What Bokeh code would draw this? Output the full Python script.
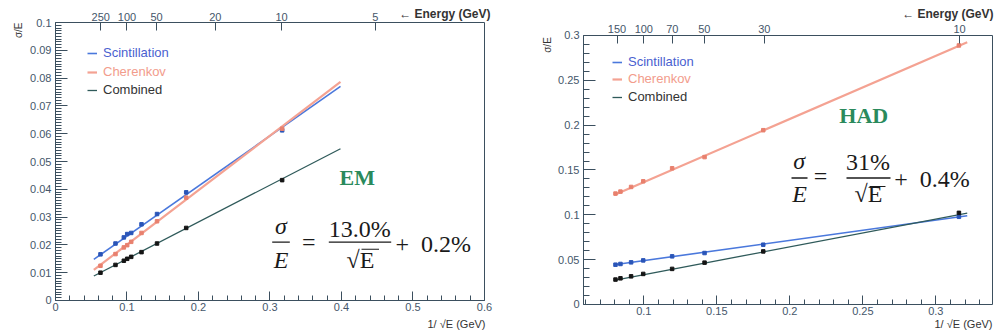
import math
from bokeh.plotting import figure
from bokeh.layouts import row
from bokeh.models import (Range1d, LinearAxis, FixedTicker, SingleIntervalTicker,
                          NumeralTickFormatter, Legend, LegendItem, Label, BoxAnnotation)
from bokeh.embed import file_html
from bokeh.resources import INLINE

# ---------------- data ----------------
# EM panel: x = 1/sqrt(E)
em_x = [0.0629, 0.0839, 0.0956, 0.1003, 0.1059, 0.1203, 0.1420, 0.1828, 0.3170]
em_scint = [0.0166, 0.0205, 0.0227, 0.0239, 0.0243, 0.0274, 0.0311, 0.0389, 0.0612]
em_cher = [0.0125, 0.0167, 0.0191, 0.0199, 0.0211, 0.0243, 0.0285, 0.0370, 0.0618]
em_comb = [0.0100, 0.0128, 0.0143, 0.0150, 0.0157, 0.0174, 0.0205, 0.0261, 0.0433]
em_fit_x = [0.0536, 0.3986]
em_fit_scint = [0.0148, 0.0770]
em_fit_cher = [0.0110, 0.0786]
em_fit_comb = [0.0088, 0.0546]
em_energy_ticks = [250, 100, 50, 20, 10, 5]
em_xlim = (0.0, 0.6)
em_ylim = (0.0, 0.1)

# HAD panel
had_x = [0.0806, 0.0840, 0.0913, 0.0996, 0.1194, 0.1416, 0.1818, 0.3158]
had_scint = [0.0444, 0.0452, 0.0470, 0.0492, 0.0537, 0.0574, 0.0667, 0.0978]
had_cher = [0.1237, 0.1259, 0.1311, 0.1374, 0.1519, 0.1644, 0.1944, 0.2889]
had_comb = [0.0278, 0.0292, 0.0314, 0.0341, 0.0397, 0.0467, 0.0592, 0.1022]
had_fit_x = [0.0797, 0.3215]
had_fit_scint = [0.0444, 0.0989]
had_fit_cher = [0.1222, 0.2926]
had_fit_comb = [0.0270, 0.1019]
had_energy_ticks = [150, 100, 70, 50, 30, 10]
had_xlim = (0.0587, 0.3388)
had_ylim = (0.0, 0.3)

series_names = ["Scintillation", "Cherenkov", "Combined"]

# ---------------- styles ----------------
AX = "#3b4f5e"
TICK = "#45566a"
LINE_COL = ["#4a78dc", "#f4a292", "#2f5a5a"]
PT_COL = ["#2a55b8", "#e8806e", "#151515"]
TXT_COL = ["#4a5fd0", "#f29c8c", "#333333"]
LINE_W = [1.6, 2.2, 1.3]
GREEN = "#2a8a5c"
SANS = "Liberation Sans"
SERIF = "Liberation Serif"
EPS = 1e-9
H = 332


def style_axis(ax, major_in, minor_in, standoff):
    ax.axis_line_color = AX
    ax.major_tick_line_color = AX
    ax.minor_tick_line_color = AX
    ax.major_tick_in = major_in
    ax.major_tick_out = 0
    ax.minor_tick_in = minor_in
    ax.minor_tick_out = 0
    ax.major_label_text_font = SANS
    ax.major_label_text_font_size = "11px"
    ax.major_label_text_color = TICK
    ax.major_label_standoff = standoff


def make_panel(width, view_x, view_y, xlim, ylim, xint, yint, xminor, yminor, xfmt, yfmt,
               energies, x, ys, fit_x, fit_ys, legend_xy):
    p = figure(width=width, height=H, x_range=Range1d(*view_x), y_range=Range1d(*view_y),
               output_backend="svg", toolbar_location=None,
               x_axis_location=None, y_axis_location=None,
               min_border=0, min_border_left=0, min_border_right=0,
               min_border_top=0, min_border_bottom=0)
    p.grid.visible = False
    p.outline_line_color = None
    p.background_fill_color = "white"
    p.border_fill_color = "white"

    xb = (xlim[0] - EPS, xlim[1] + EPS)
    yb = (ylim[0] - EPS, ylim[1] + EPS)

    bottom = LinearAxis(fixed_location=ylim[0], bounds=xb,
                        ticker=SingleIntervalTicker(interval=xint, num_minor_ticks=xminor),
                        formatter=NumeralTickFormatter(format=xfmt))
    style_axis(bottom, 9, 5, 3)
    p.add_layout(bottom, "below")

    left = LinearAxis(fixed_location=xlim[0], bounds=yb,
                      ticker=SingleIntervalTicker(interval=yint, num_minor_ticks=yminor),
                      formatter=NumeralTickFormatter(format=yfmt))
    style_axis(left, 12, 6, 4)
    p.add_layout(left, "left")

    tpos = [1.0 / math.sqrt(e) for e in energies]
    top = LinearAxis(fixed_location=ylim[1], bounds=xb,
                     ticker=FixedTicker(ticks=tpos, minor_ticks=[]),
                     major_label_overrides={t: str(e) for t, e in zip(tpos, energies)})
    style_axis(top, 8, 0, 2)
    p.add_layout(top, "above")

    right = LinearAxis(fixed_location=xlim[1], bounds=yb,
                       ticker=FixedTicker(ticks=[], minor_ticks=[]))
    style_axis(right, 0, 0, 2)
    right.major_label_text_alpha = 0
    p.add_layout(right, "right")

    line_rs = []
    for i in range(3):
        r = p.line(fit_x, fit_ys[i], line_color=LINE_COL[i], line_width=LINE_W[i])
        line_rs.append(r)
    for i in range(3):
        p.scatter(x, ys[i], marker="square", size=3.5, color=PT_COL[i])

    for i in range(3):
        lg = Legend(items=[LegendItem(label=series_names[i], renderers=[line_rs[i]])],
                    location=legend_xy[i], label_text_color=TXT_COL[i],
                    label_text_font=SANS, label_text_font_size="13px",
                    glyph_width=10, glyph_height=14, label_height=14,
                    label_standoff=6, padding=0, margin=0,
                    border_line_color=None, background_fill_alpha=0)
        p.add_layout(lg)
    return p


def text(p, xx, yy, txt, size, align="left", baseline="middle", style="normal",
         font=SANS, color="#333333", angle=0.0):
    p.add_layout(Label(x=xx, y=yy, text=txt, text_align=align, text_baseline=baseline,
                       text_font=font, text_font_size=size, text_font_style=style,
                       text_color=color, angle=angle))


def formula(p, parts, bars, thick):
    for (xx, yy, txt, align, style) in parts:
        text(p, xx, yy, txt, "24px", align=align, baseline="middle", style=style,
             font=SERIF, color="#1a1a1a")
    for (l, r, yy, th) in bars:
        p.add_layout(BoxAnnotation(left=l, right=r, bottom=yy - th * thick, top=yy + th * thick,
                                   fill_color="#1a1a1a", fill_alpha=1, line_color=None,
                                   level="annotation"))


# ---------------- EM panel ----------------
# view ranges chosen so that the frame fills the canvas (axes sit at fixed locations)
p1 = make_panel(512, (-0.076923, 0.639161), (-0.011511, 0.107914), em_xlim, em_ylim,
                0.1, 0.01, 5, 10, "0.[0]", "0.[00]", em_energy_ticks, em_x,
                [em_scint, em_cher, em_comb], em_fit_x,
                [em_fit_scint, em_fit_cher, em_fit_comb],
                [(87, 272), (87, 253), (87, 235)])

text(p1, 0.6084, 0.10288, "\u2190 Energy (GeV)", "12px", align="right", style="bold")
text(p1, 0.6014, -0.0083, "1/ \u221aE (GeV)", "11px", align="right")
text(p1, -0.052, 0.1, "\u03c3/E", "10px", align="right", angle=math.pi / 2)
text(p1, 0.4220, 0.0444, "EM", "22px", align="center", style="bold", font=SERIF, color=GREEN)

formula(p1,
        [(0.3154, 0.02662, "\u03c3", "center", "italic"),
         (0.3154, 0.01439, "E", "center", "italic"),
         (0.3543, 0.02122, "=", "center", "normal"),
         (0.4255, 0.02579, "13.0%", "center", "normal"),
         (0.4266, 0.01439, "\u221aE", "center", "normal"),
         (0.4755, 0.02040, "+\u20020.2%", "left", "normal")],
        [(0.30308, 0.32769, 0.02097, 1.0), (0.38224, 0.46951, 0.02097, 1.0),
         (0.4280, 0.4525, 0.01845, 0.8)], 0.00022)

# ---------------- HAD panel ----------------
p2 = make_panel(483, (0.010076, 0.340853), (-0.031227, 0.339033), had_xlim, had_ylim,
                0.05, 0.05, 5, 5, "0.[00]", "0.[00]", had_energy_ticks, had_x,
                [had_scint, had_cher, had_comb], had_fit_x,
                [had_fit_scint, had_fit_cher, had_fit_comb],
                [(100, 263), (100, 246), (100, 228)])

text(p2, 0.33948, 0.32342, "\u2190 Energy (GeV)", "12px", align="right", style="bold")
text(p2, 0.3388, -0.0223, "1/ \u221aE (GeV)", "11px", align="right")
text(p2, 0.03400, 0.2981, "\u03c3/E", "10px", align="right", angle=math.pi / 2)
text(p2, 0.25066, 0.21078, "HAD", "22px", align="center", style="bold", font=SERIF, color=GREEN)

formula(p2,
        [(0.20642, 0.15993, "\u03c3", "center", "italic"),
         (0.20663, 0.12346, "E", "center", "italic"),
         (0.22101, 0.14364, "=", "center", "normal"),
         (0.25354, 0.15926, "31%", "center", "normal"),
         (0.25388, 0.12346, "\u221aE", "center", "normal"),
         (0.27150, 0.14019, "+\u20020.4%", "left", "normal")],
        [(0.20115, 0.21211, 0.14108, 1.0), (0.23881, 0.26894, 0.14108, 1.0),
         (0.2546, 0.2655, 0.1315, 0.8)], 0.0007)

layout = row(p1, p2)
open("out.html", "w").write(file_html(layout, INLINE))
